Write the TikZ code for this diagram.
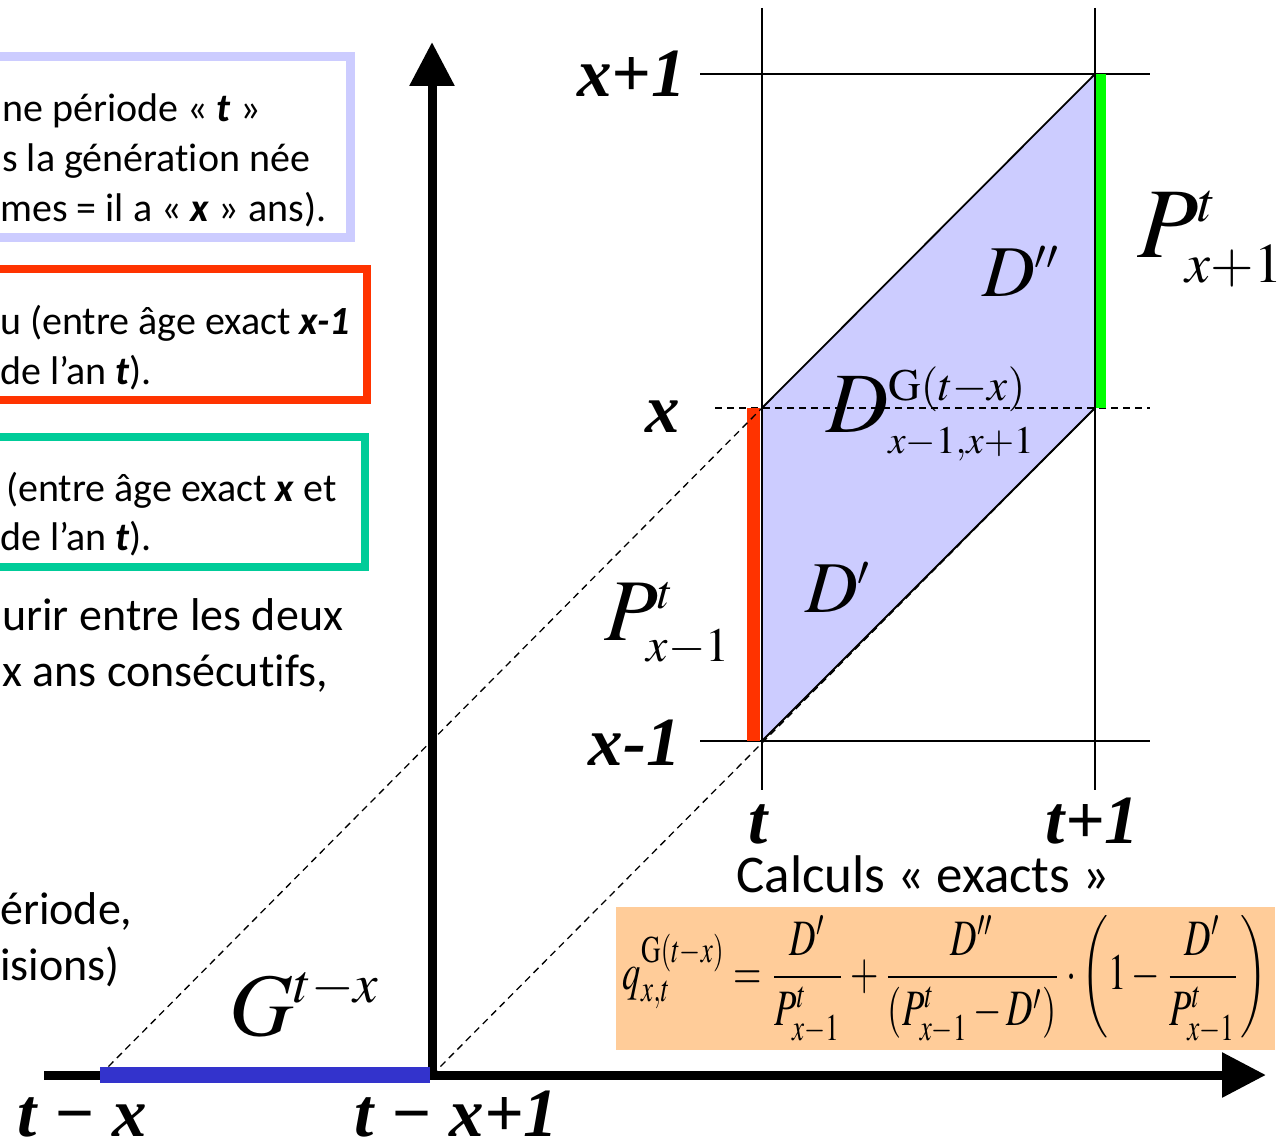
\documentclass[tikz,border=0pt]{standalone}
\usepackage{mathptmx}
\usepackage[no-math]{fontspec}
\setmainfont{Carlito}[Ligatures=NoCommon]
\newfontfamily\tms{Liberation Serif}
\usepackage{graphicx}
\usetikzlibrary{arrows.meta}
\DeclareMathSizes{100}{100}{56}{40}
\DeclareMathSizes{88}{88}{48}{36}
\DeclareMathSizes{86}{86}{45}{39}
\DeclareMathSizes{73}{73}{42}{30}
\DeclareMathSizes{89}{89}{55}{40}
\definecolor{lav}{RGB}{204,204,255}
\definecolor{redc}{RGB}{255,51,0}
\definecolor{tealc}{RGB}{0,204,153}
\definecolor{greenc}{RGB}{0,255,0}
\definecolor{blueb}{RGB}{51,51,204}
\definecolor{orangec}{RGB}{255,204,153}
\tikzset{
  boldlbl/.style={font=\tms\bfseries\itshape\fontsize{69}{69}\selectfont, inner sep=0pt},
  txt/.style={font=\fontsize{40}{48}\selectfont, anchor=base west, inner sep=0pt},
  ptxt/.style={font=\fontsize{46}{54}\selectfont, anchor=base west, inner sep=0pt},
  mlbl/.style={inner sep=0pt, anchor=base west},
  grid/.style={line width=2.3pt, black},
  dsh/.style={line width=1.3pt, dash pattern=on 7pt off 5pt},
  axis/.style={line width=9pt, -{Triangle[length=44pt,width=43pt]}},
}
\begin{document}
\begin{tikzpicture}[x=1pt,y=-1pt]
\useasboundingbox (0,0) rectangle (1285,1142);
\clip (0,0) rectangle (1285,1142);
% key points
\coordinate (A) at (762,408);
\coordinate (B) at (1095,74);
\coordinate (C) at (1095,408);
\coordinate (E) at (762,741);
\coordinate (O1) at (100,1075);
\coordinate (O2) at (432,1075);
% left boxes
\draw[lav, line width=9pt] (-30,57) rectangle (350,238);
\draw[redc, line width=8pt] (-30,269) rectangle (367,400);
\draw[tealc, line width=8pt] (-30,437) rectangle (365,567);
\node[txt] (l1) at (2,122) {ne période « \textbf{\textit{t}} »};
\node[txt] (l2) at (2,172) {s la génération née};
\node[txt] (l3) at (0,222) {mes = il a « \textbf{\textit{x}} » ans).};
\node[txt] (l4) at (0,334) {u (entre âge exact \textbf{\textit{x-1}}};
\node[txt] (l5) at (0,384) {de l’an \textbf{\textit{t}}).};
\node[txt] (l6) at (6,501) {(entre âge exact \textbf{\textit{x}} et};
\node[txt] (l7) at (0,550) {de l’an \textbf{\textit{t}}).};
\node[ptxt] (l8) at (2,630) {urir entre les deux};
\node[ptxt] (l9) at (2,686) {x ans consécutifs,};
\node[ptxt] (l10) at (0,924) {ériode,};
\node[ptxt] (l11) at (0,980) {isions)};
% parallelogram
\fill[lav] (A) -- (B) -- (C) -- (E) -- cycle;
% grid lines
\draw[grid] (762,8) -- (762,790);
\draw[grid] (1095,8) -- (1095,790);
\draw[grid] (700,74) -- (1150,74);
\draw[grid] (700,741) -- (1150,741);
\draw[dsh] (715,408) -- (1150,408);
% bars
\fill[redc] (747,408) rectangle (760,741);
\fill[greenc] (1096,74) rectangle (1106,408);
\draw[grid] (762,408) -- (762,741);
% diagonals
\draw[line width=1.8pt] (A) -- (B);
\draw[line width=1.8pt] (E) -- (C);
\draw[dsh] (O1) -- (A);
\draw[dsh] (O2) -- (C);
% axes
\draw[axis] (44,1075) -- (1266,1075);
\draw[axis] (432,1079.5) -- (432,42);
\fill[blueb] (100,1067) rectangle (430,1083);
% bold labels
\node[boldlbl, anchor=base east] (xp1) at (686,97) {x+1};
\node[boldlbl, anchor=base east] (xx) at (680,432) {x};
\node[boldlbl, anchor=base east] (xm1) at (681,765) {x-1};
\node[boldlbl, anchor=base] (tt) at (758,843) {t};
\node[boldlbl, anchor=base east] (tp1) at (1139,843) {t+1};
\node[boldlbl, anchor=base west] (tmx) at (17,1136) {t − x};
\node[boldlbl, anchor=base west] (tmx1) at (354,1136) {t − x+1};
% math labels
\node[mlbl, font=\fontsize{100}{100}\selectfont] (Pp) at (1137,258) {$P^{t}_{x+1}$};
\node[mlbl, font=\fontsize{73}{73}\selectfont] (Dpp) at (982,296) {$D''$};
\node[mlbl, font=\fontsize{86}{86}\selectfont] (DG) at (826,432) {$D^{\mathrm{G}(t-x)}_{\scriptscriptstyle x-1,x+1}$};
\node[mlbl, font=\fontsize{73}{73}\selectfont] (Dp) at (805,612) {$D'$};
\node[mlbl, font=\fontsize{88}{88}\selectfont] (Pm) at (604,640) {$P^{t}_{x-1}$};
\node[mlbl, font=\fontsize{89}{89}\selectfont] (Gt) at (229,1035) {$G^{t-x}$};
% calculs
\node[anchor=base, inner sep=0pt, font=\fontsize{53}{60}\selectfont] (calc) at (923,892) {Calculs « exacts »};
\fill[orangec] (616,907) rectangle (1275,1050);
\node[inner sep=0pt] (form) at (945,980) {\resizebox*{644pt}{128pt}{$\displaystyle q^{\mathrm{G}(t-x)}_{x,t}=\frac{D'}{P^{t}_{x-1}}+\frac{D''}{(P^{t}_{x-1}-D')}\cdot\left(1-\frac{D'}{P^{t}_{x-1}}\right)$}};
\end{tikzpicture}
\end{document}
